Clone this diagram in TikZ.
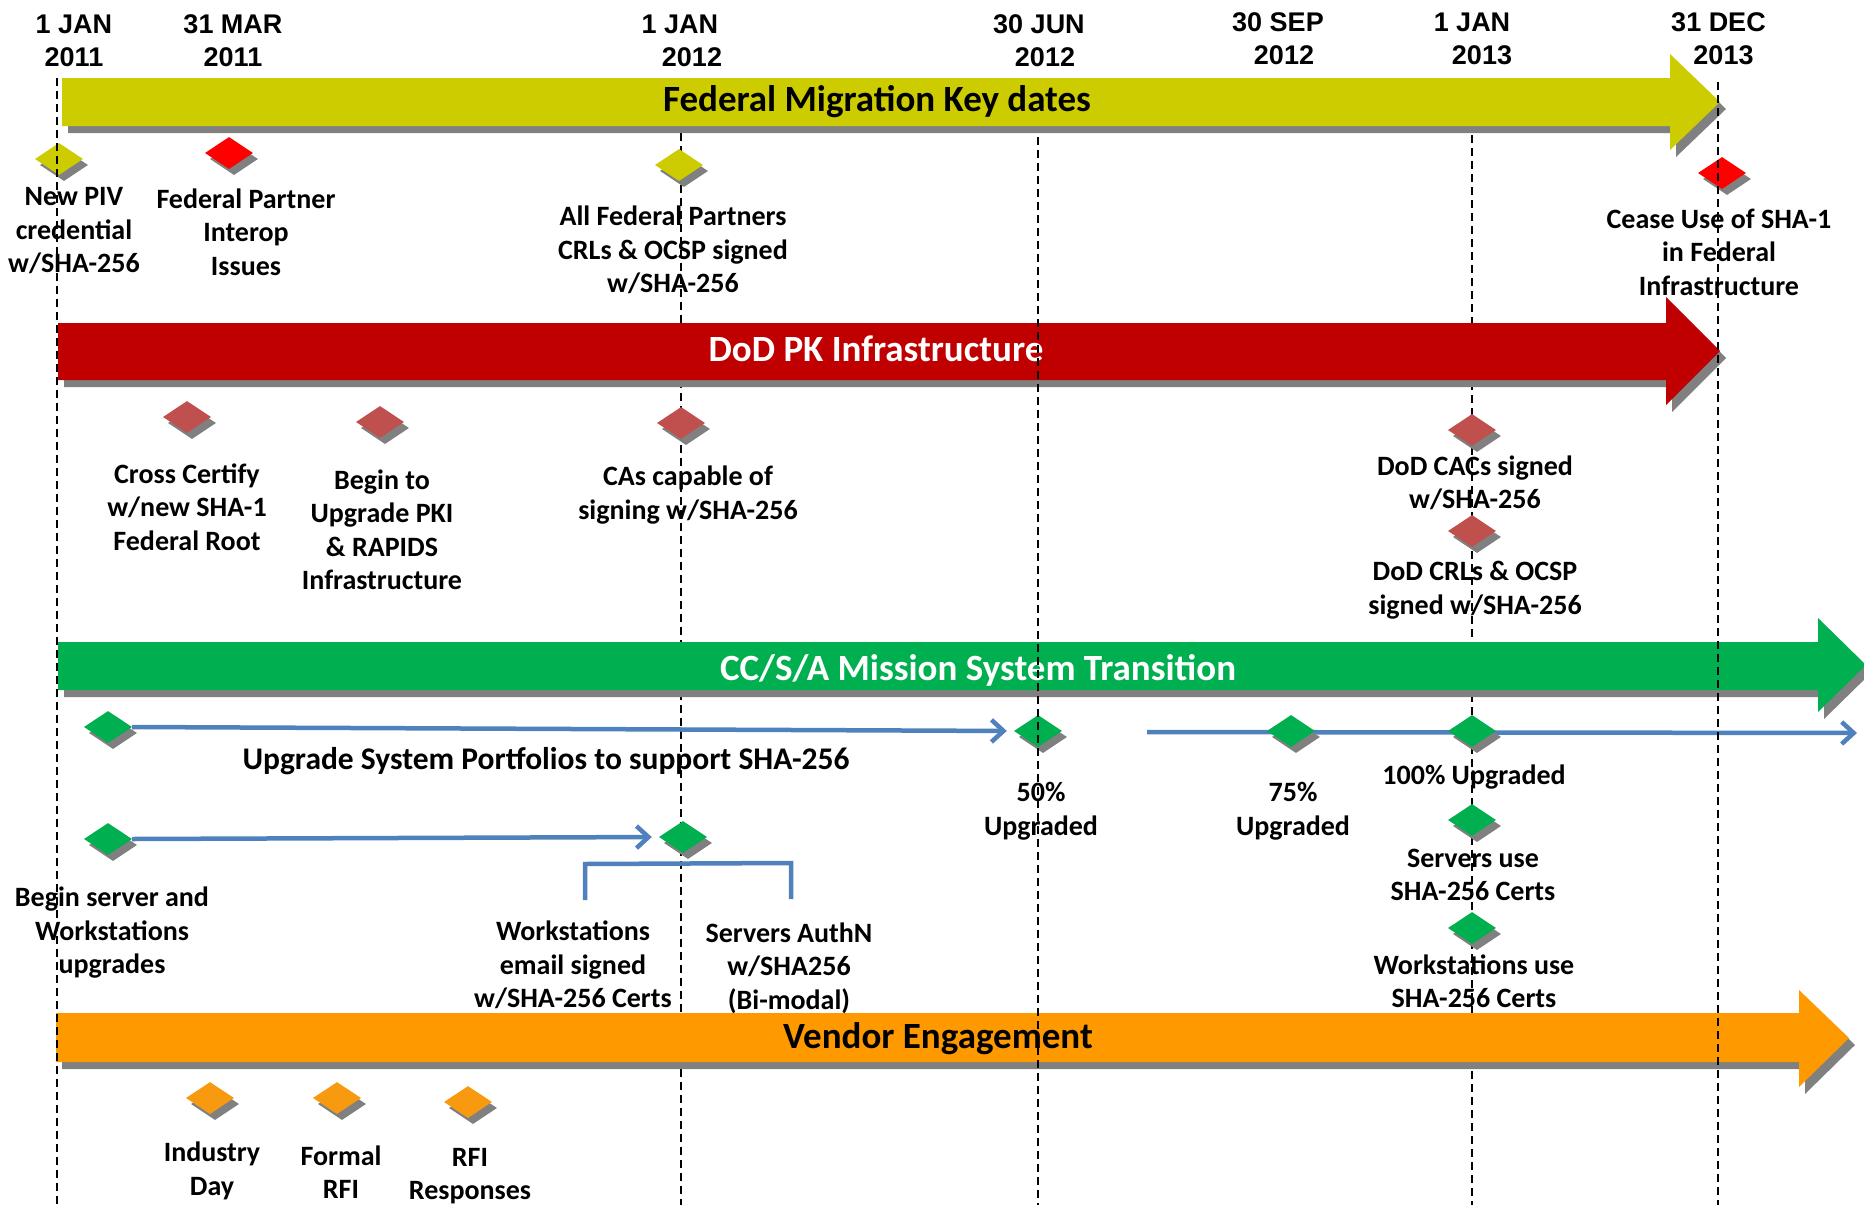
\documentclass[tikz,border=0pt]{standalone}
\usepackage{fontspec}
\newfontfamily\lblfont{Carlito}
\newfontfamily\datefont{Liberation Sans}
\usetikzlibrary{shapes.geometric,shadows,arrows.meta}
\definecolor{barY}{HTML}{CCCC00}
\definecolor{barR}{HTML}{C00000}
\definecolor{barG}{HTML}{00B050}
\definecolor{barO}{HTML}{FF9900}
\definecolor{dmdY}{HTML}{CCCC00}
\definecolor{dmdR}{HTML}{FF0000}
\definecolor{dmdDR}{HTML}{C0504D}
\definecolor{dmdG}{HTML}{00B050}
\definecolor{dmdO}{HTML}{F79A10}
\definecolor{arrowblue}{HTML}{4F81BD}
\definecolor{shadowgray}{HTML}{808080}
\begin{document}
\begin{tikzpicture}[x=1pt,y=-1pt,
  dline/.style={draw=black, line width=2pt, dash pattern=on 8pt off 5pt},
  bshadow/.style={general shadow={fill=shadowgray, shadow xshift=6pt, shadow yshift=-7pt}},
  dmd/.style={shape=diamond, minimum width=48pt, minimum height=32pt, inner sep=0pt,
    general shadow={fill=shadowgray, shadow xshift=5pt, shadow yshift=-6pt}},
  lbl/.style={font=\lblfont\bfseries\fontsize{28}{33.5}\selectfont, align=center, inner sep=0pt},
  datelbl/.style={font=\datefont\bfseries\fontsize{27}{33}\selectfont, align=center, inner sep=0pt},
  bartitle/.style={font=\lblfont\bfseries\fontsize{37}{44}\selectfont, inner sep=0pt},
  conn/.style={draw=arrowblue, line width=4.5pt, -{Straight Barb[length=12pt,width=22pt]}},
  bracket/.style={draw=arrowblue, line width=4.5pt}
]
\useasboundingbox[fill=white] (0,0) rectangle (1864,1205);

% guide lines behind the bars
\coordinate (gJ12t) at (681,133);  \coordinate (gJ12b) at (681,1205);
\coordinate (gJ13t) at (1472,135); \coordinate (gJ13b) at (1472,1205);
\draw[dline] (gJ12t) -- (gJ12b);
\draw[dline] (gJ13t) -- (gJ13b);

% bars
\path[fill=barY, bshadow] (62,78) -- (1670,78) -- (1670,54) -- (1720,102) -- (1670,150) -- (1670,126) -- (62,126) -- cycle;
\path[fill=barR, bshadow] (58,323) -- (1666,323) -- (1666,297) -- (1720,351) -- (1666,405) -- (1666,380) -- (58,380) -- cycle;
\path[fill=barG, bshadow] (58,642) -- (1818,642) -- (1818,618) -- (1866,665) -- (1818,712) -- (1818,690) -- (58,690) -- cycle;
\path[fill=barO, bshadow] (56,1013) -- (1799,1013) -- (1799,990) -- (1849,1038) -- (1799,1087) -- (1799,1062) -- (56,1062) -- cycle;

\node[bartitle] (tY) at (877,102) {Federal Migration Key dates};
\node[bartitle, text=white] (tR) at (876,349) {DoD PK Infrastructure};
\node[bartitle, text=white] (tG) at (978,670) {CC/S/A Mission System Transition};
\node[bartitle] (tO) at (938,1039) {Vendor Engagement};

% second upgrade line (behind diamonds)
\coordinate (u2s) at (1147,732);
\coordinate (u2e) at (1857,733);
\draw[conn] (u2s) -- (u2e);

% diamonds
\node[dmd, fill=dmdY] (dPIV) at (59,159) {};
\node[dmd, fill=dmdR] (dFP) at (229,153) {};
\node[dmd, fill=dmdY] (dAFP) at (679,165) {};
\node[dmd, fill=dmdR] (dCease) at (1722,173) {};

\node[dmd, fill=dmdDR] (dCross) at (187,417) {};
\node[dmd, fill=dmdDR] (dBegin) at (380,422) {};
\node[dmd, fill=dmdDR] (dCAs) at (681,423) {};
\node[dmd, fill=dmdDR] (dCACs) at (1472,430) {};
\node[dmd, fill=dmdDR] (dCRLs) at (1472,531) {};

\node[dmd, fill=dmdG] (dA) at (108,727) {};
\node[dmd, fill=dmdG] (d50) at (1038,731) {};
\node[dmd, fill=dmdG] (d75) at (1291,731) {};
\node[dmd, fill=dmdG] (d100) at (1472,731) {};
\node[dmd, fill=dmdG] (dServ) at (1472,820) {};
\node[dmd, fill=dmdG] (dWork) at (1472,928) {};
\node[dmd, fill=dmdG] (dB) at (108,839) {};
\node[dmd, fill=dmdG] (dJ12) at (683,837) {};

\node[dmd, fill=dmdO] (dInd) at (210,1098) {};
\node[dmd, fill=dmdO] (dFRFI) at (337,1098) {};
\node[dmd, fill=dmdO] (dRFIR) at (468,1102) {};

% blue arrows
\draw[conn, shorten >=7pt] (dA.east) -- (d50.west);
\draw[conn, shorten >=7pt] (dB.east) -- (dJ12.west);

% bracket
\coordinate (brA) at (585,900);
\coordinate (brB) at (585,864);
\coordinate (brC) at (791,863);
\coordinate (brD) at (791,899);
\draw[bracket] (brA) -- (brB) -- (brC) -- (brD);

% guide lines in front of the bars
\coordinate (gJ11t) at (57,78);   \coordinate (gJ11b) at (57,1205);
\coordinate (gJunt) at (1038,137); \coordinate (gJunb) at (1038,1205);
\coordinate (gDect) at (1718,82);  \coordinate (gDecb) at (1718,1205);
\draw[dline] (gJ11t) -- (gJ11b);
\draw[dline] (gJunt) -- (gJunb);
\draw[dline] (gDect) -- (gDecb);

% dates
\node[datelbl] (date1) at (74,41) {1 JAN\\2011};
\node[datelbl] (date2) at (233,41) {31 MAR\\2011};
\node[datelbl] (date3) at (686,41) {1 JAN\hspace*{12pt}\\\hspace*{12pt}2012};
\node[datelbl] (date4) at (1042,41) {30 JUN\hspace*{6pt}\\\hspace*{6pt}2012};
\node[datelbl] (date5) at (1281,39) {30 SEP\hspace*{6pt}\\\hspace*{6pt}2012};
\node[datelbl] (date6) at (1477,39) {1 JAN\hspace*{10pt}\\\hspace*{10pt}2013};
\node[datelbl] (date7) at (1721,39) {31 DEC\hspace*{5pt}\\\hspace*{5pt}2013};

% labels
\node[lbl] (lPIV) at (74,231) {New PIV\\credential\\w/SHA-256};
\node[lbl] (lFP) at (246,232) {Federal Partner\\Interop\\Issues};
\node[lbl] (lAFP) at (673,250) {All Federal Partners\\CRLs \& OCSP signed\\w/SHA-256};
\node[lbl] (lCease) at (1719,252) {Cease Use of SHA-1\\in Federal\\Infrastructure};

\node[lbl] (lCross) at (187,507) {Cross Certify\\w/new SHA-1\\Federal Root};
\node[lbl] (lBegin) at (382,530) {Begin to\\Upgrade PKI\\\& RAPIDS\\Infrastructure};
\node[lbl] (lCAs) at (688,495) {CAs capable of\\signing w/SHA-256};
\node[lbl] (lCACs) at (1475,483) {DoD CACs signed\\w/SHA-256};
\node[lbl] (lCRLs) at (1475,590) {DoD CRLs \& OCSP\\signed w/SHA-256};

\node[lbl, font=\lblfont\bfseries\fontsize{31.5}{36}\selectfont] (lUpg) at (546,761) {Upgrade System Portfolios to support SHA-256};
\node[lbl] (l50) at (1041,811) {50\%\\Upgraded};
\node[lbl] (l75) at (1293,811) {75\%\\Upgraded};
\node[lbl] (l100) at (1474,777) {100\% Upgraded};
\node[lbl] (lServ) at (1473,875) {Servers use\\SHA-256 Certs};
\node[lbl] (lWork) at (1474,981) {Workstations use\\SHA-256 Certs};

\node[lbl] (lBsw) at (112,933) {Begin server and\\Workstations\\upgrades};
\node[lbl] (lWes) at (573,965) {Workstations\\email signed\\w/SHA-256 Certs};
\node[lbl] (lSA) at (789,968) {Servers AuthN\\w/SHA256\\(Bi-modal)};

\node[lbl] (lInd) at (212,1171) {Industry\\Day};
\node[lbl] (lFRFI) at (341,1172) {Formal\\RFI};
\node[lbl] (lRFIR) at (470,1176) {RFI\\Responses};
\end{tikzpicture}
\end{document}
